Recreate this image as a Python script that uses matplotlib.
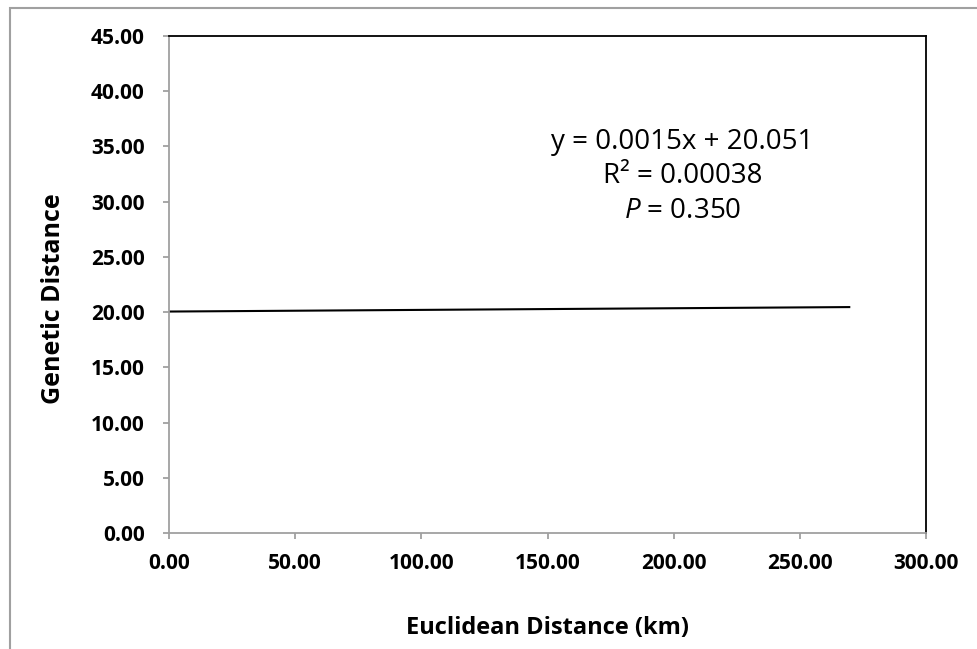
import numpy as np
import matplotlib
matplotlib.use("Agg")
import matplotlib.pyplot as plt
from matplotlib.patches import Rectangle

# trend line
slope = 0.0015
intercept = 20.051
x_range = [0.0, 270.0]
equation = "y = 0.0015x + 20.051"
r_squared = "R² = 0.00038"
p_value = "0.350"

x_ticks = [0, 50, 100, 150, 200, 250, 300]
y_ticks = [0, 5, 10, 15, 20, 25, 30, 35, 40, 45]

plt.rcParams["font.family"] = ["Open Sans", "DejaVu Sans"]
plt.rcParams["mathtext.fontset"] = "custom"
plt.rcParams["mathtext.it"] = "Open Sans:italic"
plt.rcParams["mathtext.rm"] = "Open Sans"

fig = plt.figure(figsize=(9.77, 6.49), dpi=100)
ax = fig.add_axes([169 / 977, 116 / 649, 757 / 977, 497 / 649])

x_line = np.array(x_range)
y_line = slope * x_line + intercept
ax.plot(x_line, y_line, color="black", lw=1.5, solid_capstyle="butt")

ax.set_xlim(0, 300)
ax.set_ylim(0, 45)
ax.set_xticks(x_ticks)
ax.set_yticks(y_ticks)
ax.set_xticklabels(["{:.2f}".format(v) for v in x_ticks], fontweight="bold", fontsize=15)
ax.set_yticklabels(["{:.2f}".format(v) for v in y_ticks], fontweight="bold", fontsize=15)

grey = "#a0a0a0"
for side in ["left", "bottom"]:
    ax.spines[side].set_color(grey)
    ax.spines[side].set_linewidth(1.3)
for side in ["top", "right"]:
    ax.spines[side].set_color("black")
    ax.spines[side].set_linewidth(1.3)
ax.tick_params(axis="both", direction="out", length=4.5, width=1.3, color=grey)
ax.tick_params(axis="y", pad=13)
ax.tick_params(axis="x", pad=10)

ax.set_xlabel("Euclidean Distance (km)", fontweight="bold", fontsize=17, labelpad=30)
ax.set_ylabel("Genetic Distance", fontweight="bold", fontsize=18, labelpad=18)
ax.yaxis.label.set_y(0.472)

# regression annotation
ax.text(203.5, 35.4, equation, ha="center", va="center", fontsize=20)
ax.text(203.5, 32.3, r_squared, ha="center", va="center", fontsize=20)
ax.text(203.5, 29.2, "$P$ = " + p_value, ha="center", va="center", fontsize=20)

# chart area border
fig.add_artist(Rectangle((10 / 977, -0.1), 1.1, 1 - 8 / 649 + 0.1, fill=False,
                         edgecolor=grey, lw=1.5, transform=fig.transFigure))

fig.savefig("out.png", dpi=100, facecolor="white")
